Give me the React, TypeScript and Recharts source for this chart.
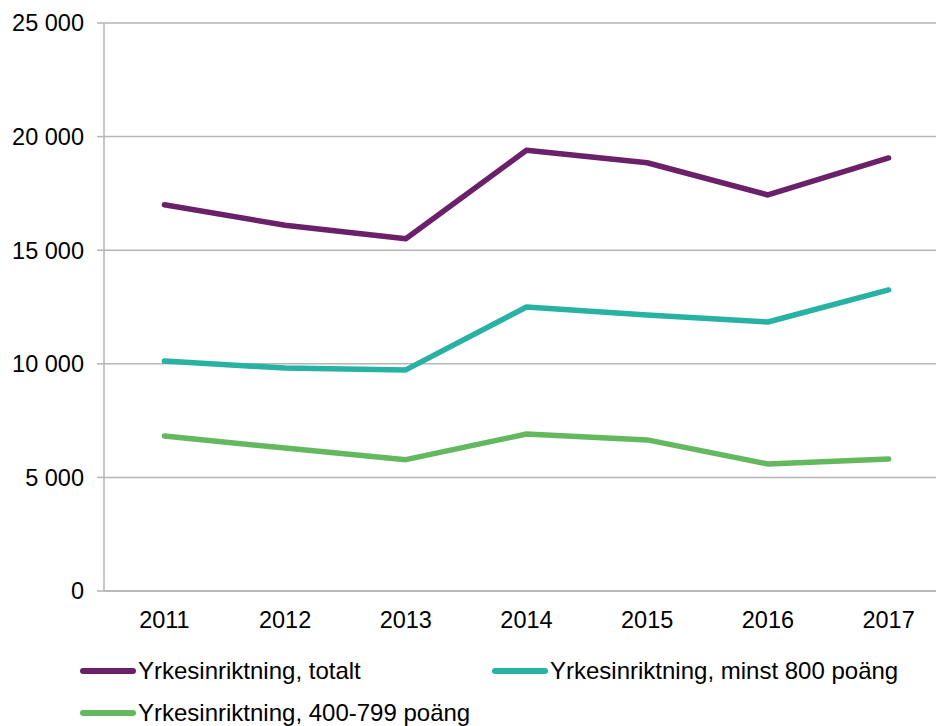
import { LineChart, Line, XAxis, YAxis, CartesianGrid } from "recharts";

const years = ["2011", "2012", "2013", "2014", "2015", "2016", "2017"];
const totalt = [17000, 16100, 15500, 19400, 18850, 17430, 19060];
const minst800 = [10120, 9810, 9730, 12500, 12150, 11840, 13250];
const poang400 = [6820, 6290, 5780, 6910, 6650, 5590, 5810];
const yTicks = [0, 5000, 10000, 15000, 20000, 25000];

const series = [
  { key: "totalt", name: "Yrkesinriktning, totalt", color: "#6B2169", values: totalt },
  { key: "minst800", name: "Yrkesinriktning, minst 800 poäng", color: "#27B2A4", values: minst800 },
  { key: "poang400", name: "Yrkesinriktning, 400-799 poäng", color: "#64B95F", values: poang400 },
];

const data = years.map((year, i) => {
  const row: Record<string, string | number> = { year };
  series.forEach((s) => {
    row[s.key] = s.values[i];
  });
  return row;
});

const fmt = (v: number) => String(v).replace(/\B(?=(\d{3})+(?!\d))/g, " ");

const font = "'Liberation Sans', Arial, sans-serif";
const grey = "#b5b5b5";

const legendPos = [
  { left: 80, top: 671 },
  { left: 492, top: 671 },
  { left: 80, top: 713 },
];

export default function App() {
  return (
    <div style={{ position: "absolute", left: 0, top: 0, width: 936, height: 726, overflow: "hidden", background: "#fff", fontFamily: font }}>
      <LineChart width={960} height={640} data={data} margin={{ top: 23, right: 11, bottom: 0, left: 0 }}>
        <CartesianGrid vertical={false} stroke={grey} strokeWidth={1.5} />
        <XAxis
          dataKey="year"
          padding={{ left: 60.4, right: 60.4 }}
          tickLine={false}
          tickSize={0}
          tickMargin={20}
          height={49}
          axisLine={{ stroke: grey, strokeWidth: 1.5 }}
          tick={{ fill: "#000", fontSize: 23.5, fontFamily: font }}
          interval={0}
        />
        <YAxis
          domain={[0, 25000]}
          ticks={yTicks}
          tickFormatter={fmt}
          width={104}
          tickSize={7}
          tickMargin={13}
          axisLine={{ stroke: grey, strokeWidth: 1.5 }}
          tickLine={{ stroke: grey, strokeWidth: 1.5 }}
          tick={{ fill: "#000", fontSize: 23.5, fontFamily: font }}
        />
        {series.map((s) => (
          <Line
            key={s.key}
            dataKey={s.key}
            name={s.name}
            stroke={s.color}
            strokeWidth={5.5}
            strokeLinecap="round"
            strokeLinejoin="round"
            dot={false}
            activeDot={false}
            type="linear"
            isAnimationActive={false}
          />
        ))}
      </LineChart>
      {series.map((s, i) => (
        <div
          key={s.key}
          style={{ position: "absolute", left: legendPos[i].left, top: legendPos[i].top - 14, height: 28, display: "flex", alignItems: "center", fontSize: 24, color: "#000", whiteSpace: "nowrap" }}
        >
          <span style={{ display: "inline-block", width: 56, height: 5.5, borderRadius: 3, background: s.color, marginRight: 2 }} />
          <span>{s.name}</span>
        </div>
      ))}
    </div>
  );
}
